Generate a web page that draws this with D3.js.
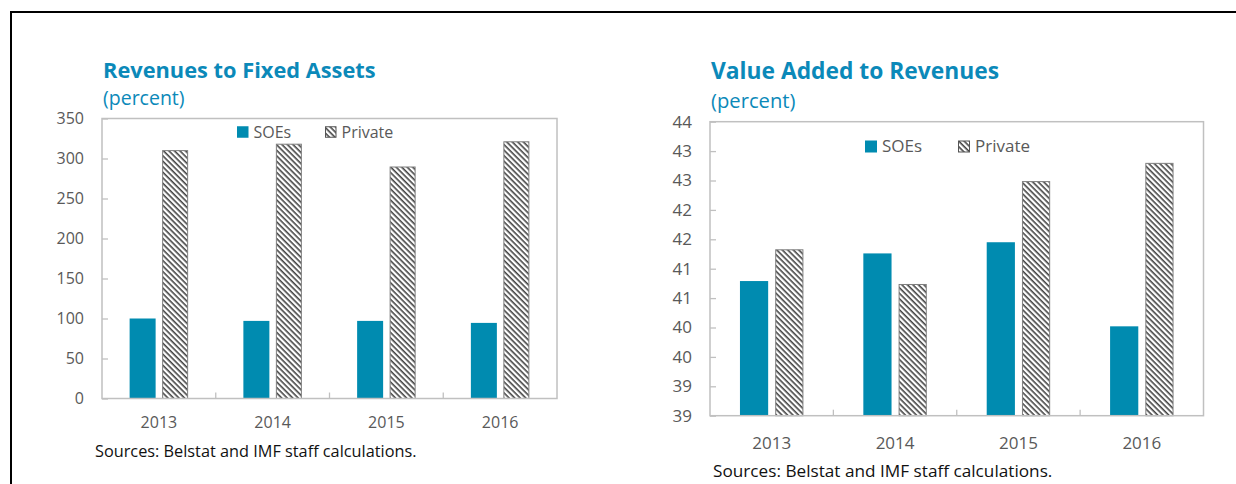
<!DOCTYPE html>
<html>
<head>
<meta charset="utf-8">
<script src="https://cdn.jsdelivr.net/npm/d3@7"></script>
<style>
  body { margin: 0; background: #fff; }
  text { font-family: "Open Sans", "Noto Sans", sans-serif; }
</style>
</head>
<body>
<svg id="chart" width="1236" height="484"></svg>
<script>
// data
var years = ["2013", "2014", "2015", "2016"];
var seriesNames = ["SOEs", "Private"];

var revSOE = [100, 97, 97, 94.5];
var revPrivate = [310.5, 318.5, 290, 321.5];
var revTicks = [0, 50, 100, 150, 200, 250, 300, 350];

var vaSOE = [41.29, 41.76, 41.95, 40.52];
var vaPrivate = [41.83, 41.24, 42.99, 43.30];
var vaTicks = [39, 39.5, 40, 40.5, 41, 41.5, 42, 42.5, 43, 43.5, 44];
var vaTickLabels = ["39", "39", "40", "40", "41", "41", "42", "42", "43", "43", "44"];

var blue = "#008bb0",
    titleBlue = "#0b89b9",
    grey = "#595959",
    frameGrey = "#c0c0c0";

var svg = d3.select("#chart");

// hatch pattern for the private series
var defs = svg.append("defs");
var pat = defs.append("pattern")
    .attr("id", "hatch")
    .attr("patternUnits", "userSpaceOnUse")
    .attr("width", 3.9)
    .attr("height", 3.9)
    .attr("patternTransform", "rotate(45)");
pat.append("rect").attr("width", 3.9).attr("height", 3.9).attr("fill", "#fff");
pat.append("rect").attr("width", 3.9).attr("height", 1.6).attr("fill", "#444");

// page frame (top and left only)
svg.append("path")
    .attr("d", "M11,484V12H1236")
    .attr("fill", "none")
    .attr("stroke", "#000")
    .attr("stroke-width", 2);

function drawChart(o) {
    var g = svg.append("g");

    var x = d3.scaleBand().domain(years).range([o.left, o.right]).paddingInner(0).paddingOuter(0);
    var x1 = d3.scaleBand().domain(seriesNames).range([0, x.bandwidth()])
        .paddingInner(0.2).paddingOuter(0.85);
    var y = d3.scaleLinear().domain(o.domain).range([o.bottom, o.top]);

    // titles
    g.append("text")
        .attr("x", o.left + 1).attr("y", o.titleY)
        .attr("fill", titleBlue)
        .style("font-weight", "bold")
        .style("font-size", o.titleSize + "px")
        .text(o.title);
    g.append("text")
        .attr("x", o.left + 1).attr("y", o.subY)
        .attr("fill", titleBlue)
        .style("font-size", o.subSize + "px")
        .text("(percent)");

    // y axis, ticks inside
    var yAxis = d3.axisLeft(y)
        .tickValues(o.ticks)
        .tickSize(-6)
        .tickPadding(18)
        .tickFormat(function(d, i) { return o.tickLabels[i]; });
    var ya = g.append("g")
        .attr("transform", "translate(" + o.left + ",0)")
        .call(yAxis);
    ya.select(".domain").remove();
    ya.selectAll("line").attr("stroke", frameGrey).attr("stroke-width", 1.3);
    ya.selectAll("text").attr("fill", grey).style("font-size", o.fontSize + "px")
        .style("font-family", "'Open Sans', sans-serif");

    // x axis labels
    var xAxis = d3.axisBottom(x).tickSize(0).tickPadding(o.xPad);
    var xa = g.append("g")
        .attr("transform", "translate(0," + o.bottom + ")")
        .call(xAxis);
    xa.select(".domain").remove();
    xa.selectAll("text").attr("fill", grey).style("font-size", o.fontSize + "px")
        .style("font-family", "'Open Sans', sans-serif");

    // category boundary ticks
    g.selectAll(".xtick")
        .data(years.slice(1))
        .enter().append("line")
        .attr("x1", function(d) { return x(d); })
        .attr("x2", function(d) { return x(d); })
        .attr("y1", o.bottom)
        .attr("y2", o.bottom - 6)
        .attr("stroke", frameGrey)
        .attr("stroke-width", 1.3);

    // bars
    var rows = years.map(function(yr, i) {
        return { year: yr, SOEs: o.soe[i], Private: o.priv[i] };
    });
    var grp = g.selectAll(".year")
        .data(rows)
        .enter().append("g")
        .attr("transform", function(d) { return "translate(" + x(d.year) + ",0)"; });

    grp.append("rect")
        .attr("x", x1("SOEs"))
        .attr("width", x1.bandwidth())
        .attr("y", function(d) { return y(d.SOEs); })
        .attr("height", function(d) { return o.bottom - y(d.SOEs); })
        .attr("fill", blue);

    grp.append("rect")
        .attr("x", x1("Private") + 0.5)
        .attr("width", x1.bandwidth() - 1)
        .attr("y", function(d) { return y(d.Private) + 0.5; })
        .attr("height", function(d) { return o.bottom - y(d.Private) - 0.5; })
        .attr("fill", "url(#hatch)")
        .attr("stroke", "#7f7f7f")
        .attr("stroke-width", 1);

    // plot frame
    g.append("rect")
        .attr("x", o.left).attr("y", o.top)
        .attr("width", o.right - o.left)
        .attr("height", o.bottom - o.top)
        .attr("fill", "none")
        .attr("stroke", frameGrey)
        .attr("stroke-width", 1.5);

    // legend
    var sw = o.legendSw;
    var lg = g.append("g").attr("transform", "translate(0," + o.legendY + ")");
    lg.append("rect")
        .attr("x", o.legendX[0]).attr("y", -sw / 2)
        .attr("width", sw).attr("height", sw)
        .attr("fill", blue);
    lg.append("text")
        .attr("x", o.legendX[0] + sw + 5).attr("y", 0).attr("dy", ".35em")
        .attr("fill", grey).style("font-size", o.fontSize + "px")
        .text(seriesNames[0]);
    lg.append("rect")
        .attr("x", o.legendX[1] + 0.5).attr("y", -sw / 2 + 0.5)
        .attr("width", sw - 1).attr("height", sw - 1)
        .attr("fill", "url(#hatch)")
        .attr("stroke", "#555");
    lg.append("text")
        .attr("x", o.legendX[1] + sw + 5).attr("y", 0).attr("dy", ".35em")
        .attr("fill", grey).style("font-size", o.fontSize + "px")
        .text(seriesNames[1]);

    // source note
    g.append("text")
        .attr("x", o.srcX).attr("y", o.srcY)
        .attr("fill", "#111")
        .style("font-size", o.srcSize + "px")
        .text("Sources: Belstat and IMF staff calculations.");
}

drawChart({
    title: "Revenues to Fixed Assets",
    left: 102, right: 557, top: 118.5, bottom: 398.5,
    domain: [0, 350], ticks: revTicks, tickLabels: revTicks.map(String),
    soe: revSOE, priv: revPrivate,
    titleY: 77.5, titleSize: 21.8, subY: 105, subSize: 19.5,
    fontSize: 16, xPad: 18.5,
    legendX: [237, 325], legendY: 132, legendSw: 11.5,
    srcX: 95, srcY: 456.5, srcSize: 16.3
});

drawChart({
    title: "Value Added to Revenues",
    left: 710, right: 1203.5, top: 121.7, bottom: 415.7,
    domain: [39, 44], ticks: vaTicks, tickLabels: vaTickLabels,
    soe: vaSOE, priv: vaPrivate,
    titleY: 79.3, titleSize: 22.8, subY: 107.5, subSize: 20.2,
    fontSize: 17, xPad: 21,
    legendX: [865, 958], legendY: 146.5, legendSw: 12,
    srcX: 713, srcY: 476.5, srcSize: 17.2
});
</script>
</body>
</html>
